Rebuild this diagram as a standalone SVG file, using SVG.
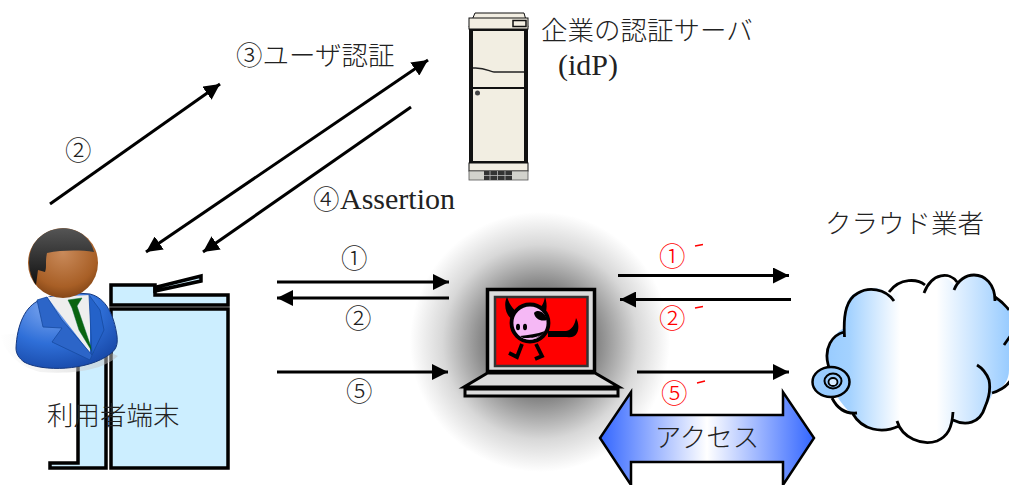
<svg xmlns="http://www.w3.org/2000/svg" width="1009" height="485" viewBox="0 0 1009 485">
<style>
.t{font-family:"Noto Sans CJK JP","Liberation Serif",sans-serif;font-size:26.5px;font-weight:300;fill:#222}
.l{font-family:"Liberation Serif","Noto Sans CJK JP",serif;font-size:30px;fill:#222}
.r{fill:#f00}
.a{stroke:#000;stroke-width:3;fill:none;marker-end:url(#ah)}
.c{fill:#cceeff;stroke:#000;stroke-width:3.5}
.s{fill:#f2eee2;stroke:#111}
</style>
<defs>
<marker id="ah" markerUnits="userSpaceOnUse" markerWidth="17" markerHeight="16" refX="16" refY="8" orient="auto-start-reverse"><path d="M0 0L16 8L0 16z" fill="#000"/></marker>
<radialGradient id="glow"><stop offset="0" stop-color="#222"/><stop offset=".45" stop-color="#888"/><stop offset=".75" stop-color="#d8d8d8"/><stop offset="1" stop-color="#fff"/></radialGradient>
<linearGradient id="cl"><stop offset="0" stop-color="#99ccff"/><stop offset=".12" stop-color="#a4d2ff"/><stop offset=".4" stop-color="#fff"/><stop offset=".6" stop-color="#fff"/><stop offset="1" stop-color="#99ccff"/></linearGradient>
<linearGradient id="ar"><stop offset="0" stop-color="#3366ff"/><stop offset=".5" stop-color="#fff"/><stop offset="1" stop-color="#3366ff"/></linearGradient>
<radialGradient id="suit" cx=".35" cy=".2" r=".95"><stop offset="0" stop-color="#7fa8f0"/><stop offset=".5" stop-color="#2f6fd8"/><stop offset="1" stop-color="#123f9c"/></radialGradient>
<radialGradient id="face" cx=".5" cy=".35" r=".7"><stop offset="0" stop-color="#c98a5a"/><stop offset=".7" stop-color="#a85f26"/><stop offset="1" stop-color="#7a3f12"/></radialGradient>
<linearGradient id="hair" x2="0" y2="1"><stop offset="0" stop-color="#555"/><stop offset="1" stop-color="#111"/></linearGradient>
<linearGradient id="sh" x2="1"><stop offset="0" stop-color="#fff"/><stop offset="1" stop-color="#bbb"/></linearGradient>
</defs>

<g id="glow-bg"><ellipse cx="540" cy="342" rx="130" ry="130" fill="url(#glow)"/></g>

<g id="copier">
<path class="c" d="M78 340V463H50V468H106V340z"/>
<rect class="c" x="111" y="309" width="117" height="159"/>
<path class="c" d="M111 285H155V295H228V305H111z"/>
<path class="c" stroke-width="2.500" d="M155 287.500L201 276V281L155 291z"/>
</g>

<g id="user">
<path d="M0 335C4 350 16 366 40 372C70 374 100 372 118 356L60 330z" fill="url(#sh)" opacity=".5"/>
<path d="M16 348C17 325 25 306 40 300L64 292L90 294C106 298 114 315 117 336C118 345 116 350 110 354C88 371 42 372 24 362C19 358 16 354 16 348z" fill="url(#suit)" stroke="#15387f"/>
<path d="M47 297L90 353V295z" fill="#eee"/>
<path d="M68 300L82 298L77 306L93 353L79 330L72 308z" fill="#0a640f" stroke="#063" stroke-width=".5"/>
<path d="M37 300L43 327L62 328L52 342L90 360L92 355L62 320L47 297z" fill="#2c65c8" stroke="#174a9f" stroke-width=".8"/>
<path d="M89 295L100 310L104 330L92 355z" fill="#2462c9" stroke="#174a9f" stroke-width=".8"/>
<circle cx="63" cy="263" r="35" fill="url(#face)"/>
<path d="M36 285C25 268 26 243 47 232C68 222 90 233 94 252C80 250 62 250 47 253C45 262 47 267 45 272L38 270z" fill="url(#hair)"/>
</g>

<g id="server">
<path class="s" d="M469 27L475 13H524L528 27z"/>
<rect class="s" x="469" y="18" width="59" height="11"/>
<rect x="513" y="20.500" width="13" height="6" fill="#f2eee2" stroke="#111" stroke-width="1.500"/>
<rect x="469" y="29" width="59" height="134" fill="#111"/>
<rect x="473" y="31" width="51" height="130" fill="#f2eee2"/>
<path d="M473 68C485 67 490 72 494 72H524" fill="none" stroke="#222" stroke-width="1.500"/>
<path d="M473 88H524" stroke="#111" stroke-width="1.800"/>
<circle cx="477.500" cy="93" r="2.500" fill="#444"/>
<rect class="s" x="469" y="163" width="59" height="8"/>
<rect x="469" y="171" width="59" height="9" fill="#d2d2cc" stroke="#555" stroke-width=".8"/>
<path d="M484 171H512V180H484z" fill="#333"/>
<path d="M490 171V180M497.500 171V180M505 171V180M484 175.500H512" stroke="#bbb" stroke-width=".8"/>
</g>

<g id="laptop">
<rect x="487.500" y="289.500" width="107" height="82" fill="#dcdcdc" stroke="#000" stroke-width="3.500"/>
<rect x="495" y="297" width="92.500" height="69" fill="#f00" stroke="#333" stroke-width="2.500"/>
<path d="M487.500 373L464 387H619L595 373z" fill="#dcdcdc" stroke="#000" stroke-width="3"/>
<rect x="465" y="389" width="153" height="7" fill="#dcdcdc" stroke="#000" stroke-width="3"/>
<g id="devil">
<path d="M507 297C503 305 506 316 513 320L519 313C512 309 509 303 507 297z" fill="#000"/>
<path d="M545 297C548 305 547 315 541 320L534 313C541 309 544 303 545 297z" fill="#000"/>
<path d="M548 331L566 331C572 330 575 324 576 318C579 323 579 330 577 333C575 337 571 338 567 337L548 337z" fill="#000"/>
<path d="M522 344L517 357L509 353M536 344L542 356L535 359" fill="none" stroke="#000" stroke-width="3.800"/>
<circle cx="530" cy="323" r="18.500" fill="#f5b8f5" stroke="#000" stroke-width="3.800"/>
<path d="M534 313C538 308 546 313 547 320C541 322 535 319 534 313z" fill="#000"/>
<ellipse cx="518" cy="327" rx="2" ry="3.200" fill="#000"/><ellipse cx="525" cy="327" rx="2" ry="3.200" fill="#000"/>
<path d="M520 336C528 335 537 334 545 331C540 339 528 342 520 336z" fill="#000"/>
<path d="M523 338C530 338 536 338 540 335C536 340 528 341 523 338z" fill="#f5b8f5"/>
</g>
</g>

<g id="cloud">
<path d="M890 300C884 282 868 288 858 292C847 295 843 310 844 328C835 333 826 345 828 360C830 376 833 392 838 398C845 408 850 413 854 414C865 430 880 434 897 428C905 442 925 446 939 439C948 434 952 428 953 423C965 426 977 423 984 410C990 400 992 395 993 392C1004 388 1009 380 1009 370V310C1006 304 998 298 995 296C995 284 985 275 974 275C966 275 958 280 954 285C948 275 930 271 924 288C918 285 900 278 890 300z" fill="url(#cl)"/>
<path d="M894 301C885 288 868 287 858 293C847 299 843 312 844.500 337M844 332C832 335 824 348 828 364C830 372 832 376 832 376M832 398C838 410 846 414 857 413M853 414C862 430 882 434 899 426M897 421C902 438 922 446 937 441C948 436 952 428 953 412M953 420C965 426 980 424 985 407C989 398 991 390 989 380C986 372 982 368 977 365M992 393C1002 390 1009 384 1012 378M1004 345L1011 335M995 301C995 284 985 275 974 275C966 275 958 280 954 290M957 282C950 272 932 272 924 293M925 285C918 279 900 277 889 292" fill="none" stroke="#000" stroke-width="2.800"/>
<path d="M1009 310C1004 303 998 299 995 297" fill="none" stroke="#000" stroke-width="2.800"/>
<ellipse cx="831" cy="382" rx="18.500" ry="15" fill="#99ccff" stroke="#000" stroke-width="2.500"/>
<ellipse cx="833" cy="381" rx="8.500" ry="7.500" fill="none" stroke="#000" stroke-width="2"/>
<ellipse cx="833" cy="382" rx="4.500" ry="4" fill="#d8ecff" stroke="#000" stroke-width="1.800"/>
</g>

<g id="access">
<path d="M631 392V415H783V392L814 438L783 485H783V462H631V485L600 438z" fill="url(#ar)" stroke="#000" stroke-width="2.500"/>
<text x="707" y="447" text-anchor="middle" class="t">アクセス</text>
</g>

<g id="connectors">
<path class="a" d="M50 204L220 84"/>
<path class="a" style="marker-start:url(#ah)" d="M146 252L428 60"/>
<path class="a" d="M411 107L203 252"/>
<path class="a" d="M277 282H449"/>
<path class="a" d="M449 298H277"/>
<path class="a" d="M277 372H448"/>
<path class="a" d="M618 275.500H789"/>
<path class="a" d="M791 299.500H620"/>
<path class="a" d="M637 372H789"/>
</g>

<g id="labels">
<text class="t" x="65" y="160">②</text>
<text class="t" x="236" y="65">③ユーザ認証</text>
<text class="t" x="541" y="40">企業の認証サーバ</text>
<text class="l" x="558" y="75" font-weight="400">(idP)</text>
<text class="t" x="313" y="209">④</text>
<text class="l" x="340" y="209">Assertion</text>
<text class="t" x="341" y="268">①</text>
<text class="t" x="345" y="328">②</text>
<text class="t" x="346" y="401">⑤</text>
<text class="t" x="825" y="233">クラウド業者</text>
<text class="t" x="47" y="425">利用者端末</text>
<text class="t r" x="659" y="266">①</text>
<text class="t r" x="659" y="328">②</text>
<text class="t r" x="661" y="403">⑤</text>
<path d="M695 246L703 244.500M695 308L703 306.500M697 383L705 381" stroke="#f00" stroke-width="1.500"/>
</g>
</svg>
